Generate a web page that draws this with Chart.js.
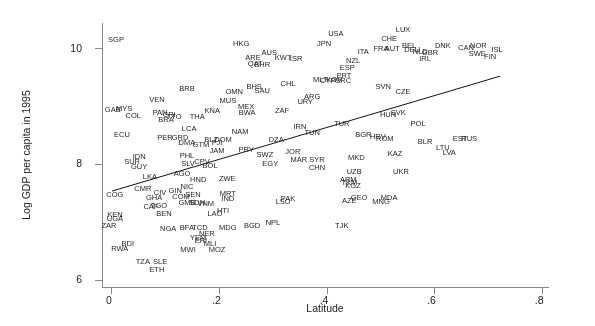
<!DOCTYPE html>
<html><head><meta charset="utf-8">
<script src="https://cdn.jsdelivr.net/npm/chart.js@4.4.1/dist/chart.umd.min.js"></script>
<style>html,body{margin:0;padding:0;background:#fff}#wrap{width:595px;height:326px}</style>
</head><body><div id="wrap"><canvas id="c" width="595" height="326"></canvas></div>
<script>
const countries = ["SGP","HKG","USA","LUX","CHE","FRA","AUT","BEL","DEU","NLD","GBR","IRL","DNK","CAN","NOR","SWE","FIN","ISL","ITA","JPN","NZL","ESP","PRT","MLT","CYP","KOR","GRC","AUS","KWT","ISR","ARE","QAT","BHR","BHS","SAU","BRB","OMN","MUS","MEX","VEN","KNA","THA","BWA","ZAF","URY","ARG","CHL","SVN","CZE","GAB","MYS","COL","PAN","CRI","TTO","BRA","ECU","LCA","PER","GRD","DMA","GTM","FJI","BLZ","DOM","NAM","JAM","PRY","IDN","SUR","GUY","PHL","SLV","CPV","BOL","IRN","TUN","TUR","DZA","HUN","SVK","POL","BGR","HRV","ROM","SWZ","JOR","MAR","SYR","EGY","CHN","MKD","KAZ","BLR","LTU","LVA","EST","RUS","UZB","UKR","ARM","TKM","KGZ","GEO","AZE","MDA","MNG","PAK","LSO","TJK","NPL","BGD","LKA","AGO","HND","ZWE","NIC","GIN","CMR","CIV","GHA","COG","COM","SEN","GMB","SDN","VNM","MRT","IND","CAF","TGO","BEN","LAO","HTI","KEN","UGA","ZAR","NGA","BFA","TCD","NER","MDG","YEM","ERI","MLI","MWI","MOZ","BDI","RWA","TZA","SLE","ETH"];
const latitude = [0.013,0.246,0.422,0.547,0.521,0.506,0.527,0.558,0.564,0.579,0.597,0.588,0.621,0.664,0.687,0.685,0.709,0.722,0.473,0.400,0.454,0.443,0.437,0.393,0.407,0.419,0.435,0.298,0.324,0.348,0.268,0.272,0.285,0.270,0.285,0.145,0.233,0.221,0.255,0.089,0.192,0.164,0.257,0.322,0.365,0.378,0.333,0.510,0.547,0.007,0.028,0.045,0.095,0.112,0.121,0.106,0.024,0.149,0.104,0.132,0.145,0.171,0.201,0.190,0.212,0.244,0.201,0.255,0.056,0.043,0.056,0.145,0.147,0.173,0.188,0.355,0.378,0.433,0.311,0.519,0.538,0.575,0.473,0.500,0.513,0.290,0.342,0.353,0.387,0.300,0.387,0.460,0.532,0.588,0.621,0.633,0.653,0.670,0.456,0.543,0.445,0.447,0.454,0.465,0.447,0.521,0.506,0.333,0.324,0.433,0.305,0.266,0.076,0.136,0.166,0.220,0.145,0.123,0.063,0.095,0.084,0.011,0.134,0.156,0.145,0.164,0.180,0.221,0.221,0.078,0.093,0.102,0.197,0.212,0.011,0.011,0.000,0.110,0.145,0.169,0.182,0.221,0.166,0.171,0.188,0.147,0.201,0.035,0.020,0.063,0.095,0.089];
const logGdp = [10.16,10.09,10.26,10.33,10.17,10.00,10.00,10.05,9.98,9.95,9.93,9.83,10.05,10.02,10.05,9.91,9.86,9.98,9.95,10.09,9.79,9.67,9.53,9.46,9.45,9.46,9.45,9.93,9.84,9.83,9.84,9.74,9.72,9.34,9.27,9.31,9.26,9.10,9.00,9.12,8.93,8.82,8.89,8.93,9.08,9.17,9.39,9.34,9.26,8.94,8.96,8.84,8.89,8.86,8.82,8.77,8.51,8.62,8.46,8.46,8.37,8.34,8.37,8.42,8.42,8.56,8.23,8.25,8.13,8.04,7.96,8.15,8.01,8.04,7.97,8.65,8.55,8.70,8.42,8.86,8.89,8.70,8.51,8.48,8.44,8.16,8.22,8.08,8.08,8.01,7.94,8.11,8.18,8.39,8.29,8.20,8.44,8.44,7.87,7.87,7.73,7.68,7.63,7.42,7.37,7.42,7.35,7.40,7.35,6.94,6.99,6.94,7.78,7.84,7.73,7.75,7.61,7.54,7.58,7.51,7.42,7.47,7.44,7.47,7.33,7.33,7.32,7.49,7.40,7.26,7.28,7.14,7.14,7.20,7.13,7.06,6.94,6.88,6.90,6.90,6.80,6.90,6.73,6.68,6.62,6.52,6.52,6.62,6.54,6.31,6.31,6.17];
const fitLatitude = [0, 0.722];
const fitLogGdp = [7.54, 9.53];
const xTicks = [0, 0.2, 0.4, 0.6, 0.8];
const xTickLabels = ["0", ".2", ".4", ".6", ".8"];
const yTicks = [6, 8, 10];
const yTickLabels = ["6", "8", "10"];

const FONT = '"Liberation Sans", Arial, Helvetica, sans-serif';

const labelPlugin = {
  id: 'mlabels',
  afterDatasetsDraw(chart) {
    const meta = chart.getDatasetMeta(0);
    const ctx = chart.ctx;
    ctx.save();
    ctx.font = '7.5px ' + FONT;
    ctx.fillStyle = '#1e1e1e';
    ctx.textAlign = 'center';
    ctx.textBaseline = 'middle';
    meta.data.forEach((pt, i) => { ctx.fillText(countries[i], pt.x - 3, pt.y); });
    ctx.restore();
  }
};

new Chart(document.getElementById('c'), {
  type: 'scatter',
  data: {
    datasets: [
      {
        data: latitude.map((x, i) => ({ x: x, y: logGdp[i] })),
        pointRadius: 0, pointHoverRadius: 0
      },
      {
        type: 'line',
        data: fitLatitude.map((x, i) => ({ x: x, y: fitLogGdp[i] })),
        borderColor: '#111', borderWidth: 1, pointRadius: 0, fill: false, tension: 0
      }
    ]
  },
  options: {
    responsive: false, animation: false, devicePixelRatio: 1,
    layout: { padding: { left: 0, right: 47, top: 23, bottom: 0 } },
    plugins: { legend: { display: false }, tooltip: { enabled: false } },
    scales: {
      x: {
        type: 'linear', min: -0.0186, max: 0.811,
        afterBuildTicks: s => { s.ticks = xTicks.map(v => ({ value: v })); },
        afterFit: s => { s.height = 39; },
        ticks: { callback: v => xTickLabels[xTicks.indexOf(v)], color: '#222', font: { family: FONT, size: 10.5 }, padding: 1, maxRotation: 0, labelOffset: -3 },
        grid: { drawOnChartArea: false, drawTicks: true, tickLength: 7, color: '#888', lineWidth: 1 },
        border: { display: true, color: '#888', width: 1 },
        title: { display: true, text: 'Latitude', color: '#222', font: { family: FONT, size: 10.5 }, padding: { top: 0, bottom: 11 } }
      },
      y: {
        type: 'linear', min: 5.88, max: 10.45,
        afterBuildTicks: s => { s.ticks = yTicks.map(v => ({ value: v })); },
        afterFit: s => { s.width = 102; },
        ticks: { callback: v => yTickLabels[yTicks.indexOf(v)], color: '#222', font: { family: FONT, size: 10.5 }, padding: 13 },
        grid: { drawOnChartArea: false, drawTicks: true, tickLength: 7, color: '#888', lineWidth: 1 },
        border: { display: true, color: '#888', width: 1 },
        title: { display: true, text: 'Log GDP per capita in 1995', color: '#222', font: { family: FONT, size: 10.5 }, padding: { top: 21, bottom: 0 } }
      }
    }
  },
  plugins: [labelPlugin]
});
</script>
</body></html>
